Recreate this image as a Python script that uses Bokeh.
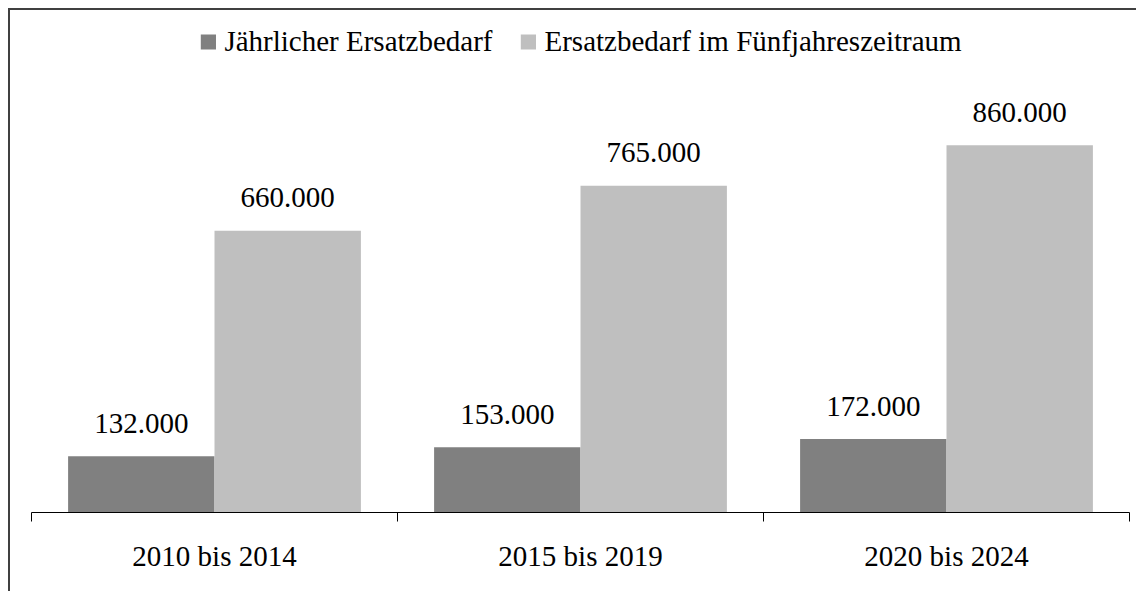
from bokeh.plotting import figure
from bokeh.models import (FactorRange, Range1d, LinearAxis, FixedTicker,
                          ColumnDataSource, Legend, LegendItem)
from bokeh.transform import dodge
from bokeh.core.properties import value
from bokeh.embed import file_html
from bokeh.resources import INLINE

# ---- data ----
periods = ["2010 bis 2014", "2015 bis 2019", "2020 bis 2024"]
annual = [132000, 153000, 172000]
five_year = [660000, 765000, 860000]
series_names = ["Jährlicher Ersatzbedarf", "Ersatzbedarf im Fünfjahreszeitraum"]
colors = ["#808080", "#BFBFBF"]


def fmt(v):
    return f"{v:,}".replace(",", ".")


src = ColumnDataSource(dict(
    period=periods,
    annual=annual,
    five=five_year,
    annual_lbl=[fmt(v) for v in annual],
    five_lbl=[fmt(v) for v in five_year],
))

FONT = "Liberation Serif"
FS = "29px"
W, H = 1128, 583
n = len(periods)

p = figure(
    x_range=FactorRange(factors=periods, range_padding=0, factor_padding=0),
    y_range=Range1d(0, 1175600),
    width=W, height=H,
    output_backend="svg", toolbar_location=None,
    x_axis_location=None, y_axis_location=None,
    min_border_left=21, min_border_right=9,
    min_border_top=0, min_border_bottom=81,
)
p.grid.grid_line_color = None
p.outline_line_color = None
p.background_fill_color = "white"
p.border_fill_color = "white"
p.styles = {"border-left": "2px solid #404040", "border-top": "2px solid #404040",
            "margin-left": "8px", "margin-top": "8px"}

# axis in the factor range's synthetic coordinates: boundary ticks (minor)
# and centred category labels (major)
ax = LinearAxis(
    ticker=FixedTicker(ticks=[i + 0.5 for i in range(n)],
                       minor_ticks=list(range(n + 1))),
    major_label_overrides={i + 0.5: periods[i] for i in range(n)},
    major_tick_out=0, major_tick_in=0,
    minor_tick_out=9, minor_tick_in=0,
    minor_tick_line_color="#000000",
    axis_line_color="#000000",
    major_label_standoff=18,
    major_label_text_font=FONT,
    major_label_text_font_size=FS,
    major_label_text_color="#000000",
)
p.add_layout(ax, "below")

r1 = p.vbar(x=dodge("period", -0.2, range=p.x_range), top="annual", width=0.4,
            source=src, fill_color=colors[0], line_color=None)
r2 = p.vbar(x=dodge("period", 0.2, range=p.x_range), top="five", width=0.4,
            source=src, fill_color=colors[1], line_color=None)

for xoff, col in [(-0.2, "annual"), (0.2, "five")]:
    p.text(x=dodge("period", xoff, range=p.x_range), y=col, text=col + "_lbl",
           source=src, text_align="center", text_baseline="alphabetic",
           y_offset=-33, text_font=value(FONT), text_font_size=FS,
           text_color="#000000")

legend = Legend(
    items=[LegendItem(label=series_names[0], renderers=[r1]),
           LegendItem(label=series_names[1], renderers=[r2])],
    location="top_center", orientation="horizontal",
    border_line_color=None, background_fill_alpha=0,
    glyph_width=19, glyph_height=19, label_standoff=7, spacing=26,
    padding=0, margin=15,
    label_text_font=FONT, label_text_font_size=FS, label_text_color="#000000",
)
p.add_layout(legend)

open("out.html", "w").write(file_html(p, INLINE))
